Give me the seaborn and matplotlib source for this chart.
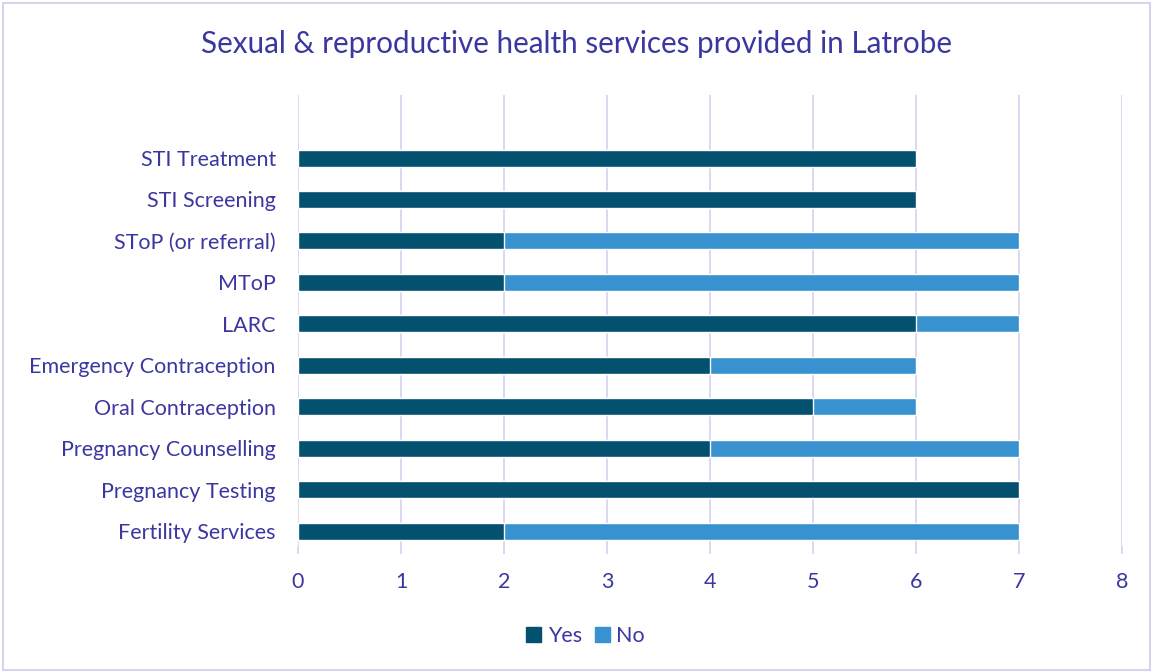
import matplotlib
matplotlib.use("Agg")
import matplotlib.pyplot as plt
import matplotlib.patches as mpatches
import seaborn as sns
import pandas as pd

services = ["STI Treatment", "STI Screening", "SToP (or referral)", "MToP", "LARC",
            "Emergency Contraception", "Oral Contraception", "Pregnancy Counselling",
            "Pregnancy Testing", "Fertility Services"]
yes_counts = [6, 6, 2, 2, 6, 4, 5, 4, 7, 2]
no_counts = [0, 0, 5, 5, 1, 2, 1, 3, 0, 5]
x_ticks = [0, 1, 2, 3, 4, 5, 6, 7, 8]

YES_COLOR = "#03506F"
NO_COLOR = "#3792CF"
TEXT_COLOR = "#3B37A0"
GRID_COLOR = "#D8D4F2"

sns.set_theme(style="white")
plt.rcParams["font.family"] = ["Lato", "DejaVu Sans"]

df = pd.DataFrame({"service": services, "yes": yes_counts, "no": no_counts})
df["total"] = df["yes"] + df["no"]

fig = plt.figure(figsize=(11.53, 6.72), dpi=100)
ax = fig.add_axes([0.2585, 0.1875, 0.9731 - 0.2585, 0.8586 - 0.1875])

# stacked bars: full total in light blue, "Yes" portion drawn over it
sns.barplot(data=df, y="service", x="total", color=NO_COLOR, width=0.41,
            saturation=1, orient="h", ax=ax, order=services)
sns.barplot(data=df, y="service", x="yes", color=YES_COLOR, width=0.41,
            saturation=1, orient="h", ax=ax, order=services)

ax.set_xlim(0, 8)
ax.set_ylim(9.36, -1.52)
ax.set_xticks(x_ticks)
ax.set_xticklabels([str(t) for t in x_ticks])
ax.set_xlabel("")
ax.set_ylabel("")
ax.grid(axis="x", color=GRID_COLOR, linewidth=1.3)
ax.grid(axis="y", visible=False)
ax.set_axisbelow(True)
for s in ax.spines.values():
    s.set_visible(False)
ax.tick_params(axis="x", length=6, width=1.3, color=GRID_COLOR, colors=TEXT_COLOR,
               labelsize=15.5, pad=13, bottom=True)
ax.tick_params(axis="y", length=0, colors=TEXT_COLOR, labelsize=15.5, pad=16)

fig.text(0.5, 1 - 44 / 672, "Sexual & reproductive health services provided in Latrobe",
         ha="center", va="center", fontsize=21.3, color=TEXT_COLOR)

handles = [mpatches.Patch(color=YES_COLOR, label="Yes"),
           mpatches.Patch(color=NO_COLOR, label="No")]
fig.legend(handles=handles, loc="center", bbox_to_anchor=(0.508, 1 - 636 / 672),
           ncol=2, frameon=False, fontsize=15.5, labelcolor=TEXT_COLOR,
           handlelength=0.7, handleheight=0.7, handletextpad=0.3, columnspacing=0.6)

# thin lavender frame around the whole chart
fig.patches.append(mpatches.Rectangle((0.003, 0.003), 0.994, 0.992, transform=fig.transFigure,
                                      fill=False, edgecolor="#D6D3EE", linewidth=1.5))

fig.savefig("out.png", dpi=100)
